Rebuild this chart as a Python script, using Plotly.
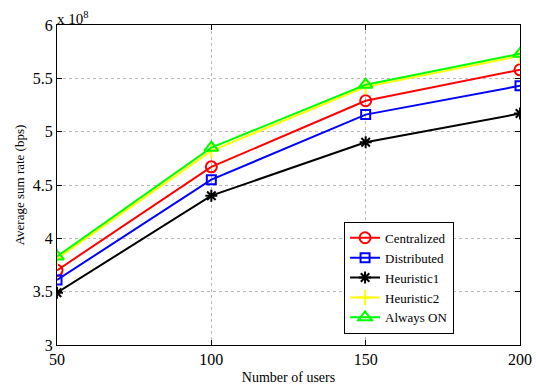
import plotly.graph_objects as go

users = [50, 100, 150, 200]
centralized = [3.70, 4.67, 5.29, 5.58]
distributed = [3.61, 4.55, 5.16, 5.43]
heuristic1 = [3.49, 4.40, 4.90, 5.17]
heuristic2 = [3.81, 4.82, 5.42, 5.71]
always_on = [3.83, 4.85, 5.44, 5.73]

series = [
    ("Centralized", centralized, "#ff0000", "circle-open", 11),
    ("Distributed", distributed, "#0000ff", "square-open", 9),
    ("Heuristic1", heuristic1, "#000000", "asterisk-open", 10),
    ("Heuristic2", heuristic2, "#ffff00", "cross-thin-open", 11),
    ("Always ON", always_on, "#00ff00", "triangle-up-open", 12),
]

FONT = "Liberation Serif, Times New Roman, Times, serif"

fig = go.Figure()
for name, vals, color, sym, size in series:
    fig.add_trace(go.Scatter(
        x=users, y=vals, name=name, mode="lines+markers",
        line=dict(color=color, width=2),
        marker=dict(symbol=sym, size=size, color=color, line=dict(color=color, width=2)),
    ))

axis_common = dict(
    showline=True, linecolor="black", linewidth=1, mirror="ticks",
    ticks="inside", ticklen=5, tickcolor="black",
    showgrid=True, gridcolor="#b8b8b8", griddash="dot", gridwidth=1,
    zeroline=False, tickfont=dict(family=FONT, size=16, color="black"),
    ticklabeloverflow="allow", automargin=False,
)

fig.update_layout(
    template="none",
    width=536, height=386,
    margin=dict(l=57, r=16, t=25, b=41),
    paper_bgcolor="white", plot_bgcolor="white",
    font=dict(family=FONT, color="black"),
    xaxis=dict(range=[50, 200], tickvals=[50, 100, 150, 200],
               title=dict(text="Number of users", font=dict(family=FONT, size=14), standoff=4), **axis_common),
    yaxis=dict(range=[3, 6], tickvals=[3, 3.5, 4, 4.5, 5, 5.5, 6],
               title=dict(text="Average sum rate (bps)", font=dict(family=FONT, size=13), standoff=5), **axis_common),
    legend=dict(x=0.62, y=0.035, xanchor="left", yanchor="bottom",
                bgcolor="white", bordercolor="black", borderwidth=1,
                font=dict(family=FONT, size=13, color="black"),
                tracegroupgap=0, itemwidth=30),
    showlegend=True,
)
fig.add_annotation(x=0, y=1, xref="paper", yref="paper", xanchor="left", yanchor="bottom",
                   text="x 10<sup>8</sup>", showarrow=False, xshift=-2, yshift=-4,
                   font=dict(family=FONT, size=15, color="black"))

fig.write_html("out.html", config={"displayModeBar": False},
               post_script="document.body.style.margin='0';")
